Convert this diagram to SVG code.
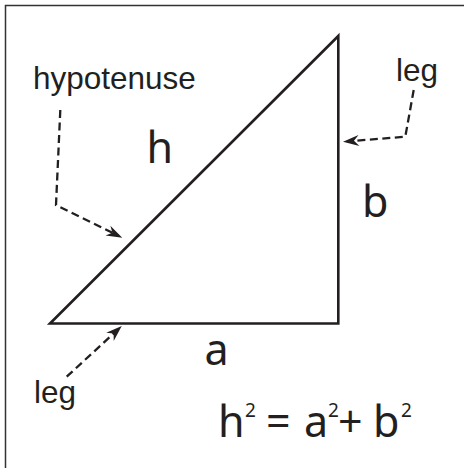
<svg xmlns="http://www.w3.org/2000/svg" width="464" height="468" viewBox="0 0 464 468">
  <style>
    .frame { fill: none; stroke: #333132; stroke-width: 1.5; }
    .tri { fill: none; stroke: #231f20; stroke-width: 2.6; stroke-linejoin: miter; }
    .conn { fill: none; stroke: #231f20; stroke-width: 2.3; stroke-dasharray: 8 4.5; }
    .lbl { font-family: "Liberation Sans", Arial, sans-serif; font-size: 31.5px; fill: #231f20; }
    .var { font-family: "Noto Sans", "Open Sans", sans-serif; font-size: 43px; fill: #231f20; }
    .sup { font-size: 19px; }
  </style>
  <defs>
    <marker id="arrow" viewBox="-17 -7 19 14" markerWidth="19" markerHeight="14" refX="-4" refY="0" orient="auto" markerUnits="userSpaceOnUse">
      <path d="M0,0 L-16,-5.5 L-11,0 L-16,5.5 Z" fill="#231f20"/>
    </marker>
  </defs>
  <rect width="464" height="468" fill="#ffffff"/>
  <path class="frame" d="M5.5,468 V5.5 H464"/>

  <g id="triangle">
    <path class="tri" d="M50,323.5 L338.3,36 L338.3,323.5 Z"/>
  </g>

  <g id="label-h"><text class="var" x="146.5" y="163">h</text></g>
  <g id="label-b"><text class="var" x="362" y="217">b</text></g>
  <g id="label-a"><text class="var" x="204.5" y="365">a</text></g>

  <g id="note-hypotenuse"><text class="lbl" x="33" y="89">hypotenuse</text></g>
  <g id="note-leg-right"><text class="lbl" x="396" y="81">leg</text></g>
  <g id="note-leg-bottom"><text class="lbl" x="34" y="402.7">leg</text></g>

  <g id="equation">
    <text class="var" y="437">
      <tspan x="218">h</tspan><tspan class="sup" x="245" y="417">2</tspan><tspan x="266" y="437">=</tspan><tspan x="304">a</tspan><tspan class="sup" x="328" y="417">2</tspan><tspan x="338" y="437">+</tspan><tspan x="373">b</tspan><tspan class="sup" x="401" y="417">2</tspan>
    </text>
  </g>

  <g id="connectors">
    <path class="conn" d="M60.3,110 L56,205 L118.7,235.9" marker-end="url(#arrow)"/>
    <path class="conn" d="M413.7,90 L405.3,136.7 L347,141.4" marker-end="url(#arrow)"/>
    <path class="conn" d="M66.7,376.7 L118.8,328.7" marker-end="url(#arrow)"/>
  </g>
</svg>
